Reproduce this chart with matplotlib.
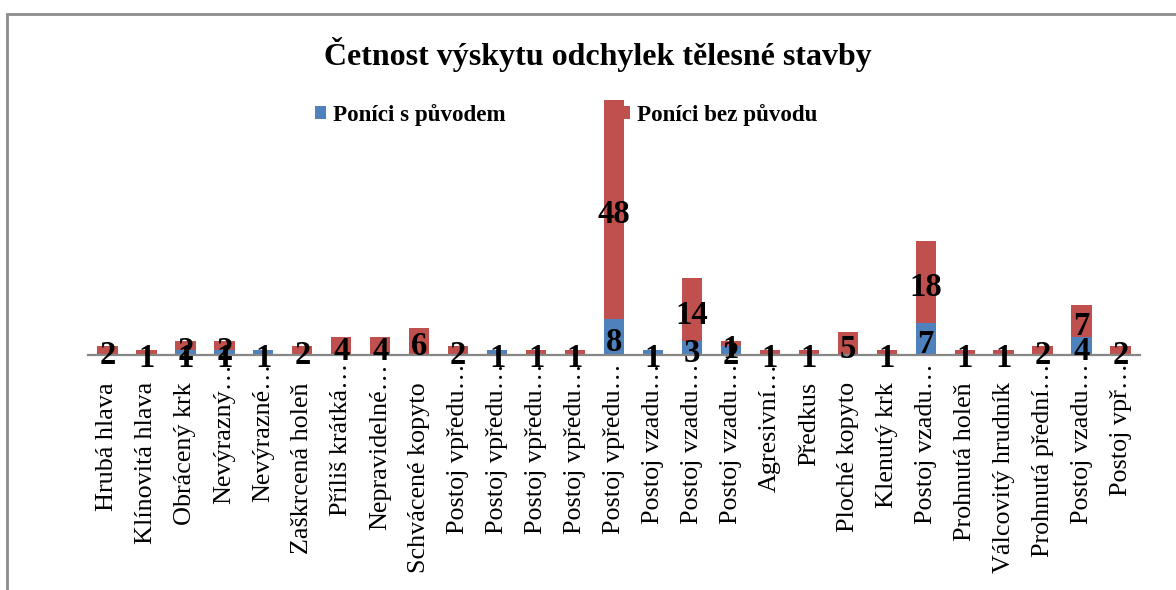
import matplotlib
matplotlib.use('Agg')

import matplotlib.pyplot as plt
import matplotlib.transforms as mtransforms
from matplotlib.patches import Rectangle
import numpy as np

plt.rcParams['font.family'] = ['Liberation Serif', 'DejaVu Serif']

categories = [
    'Hrubá hlava', 'Klínovitá hlava', 'Obrácený krk', 'Nevýrazný…', 'Nevýrazné…',
    'Zaškrcená holeň', 'Příliš krátká…', 'Nepravidelné…', 'Schvácené kopyto',
    'Postoj vpředu…', 'Postoj vpředu…', 'Postoj vpředu…', 'Postoj vpředu…',
    'Postoj vpředu…', 'Postoj vzadu…', 'Postoj vzadu…', 'Postoj vzadu…',
    'Agresivní…', 'Předkus', 'Ploché kopyto', 'Klenutý krk', 'Postoj vzadu…',
    'Prohnutá holeň', 'Válcovitý hrudník', 'Prohnutá přední…', 'Postoj vzadu…',
    'Postoj vpř…',
]
# None = prázdná buňka (bez popisku)
s_puvodem = [None, None, 1, 1, 1, None, None, None, None, None, 1, None, None,
             8, 1, 3, 2, None, None, None, None, 7, None, None, None, 4, None]
bez_puvodu = [2, 1, 2, 2, None, 2, 4, 4, 6, 2, None, 1, 1,
              48, None, 14, 1, 1, 1, 5, 1, 18, 1, 1, 2, 7, 2]

series = ['Poníci s původem', 'Poníci bez původu']
colors = ['#4F81BD', '#C0504D']

W, H = 1176, 590
fig = plt.figure(figsize=(W / 100, H / 100), dpi=100)

# rámeček grafu (vpravo a dole oříznutý)
fig.patches.append(Rectangle((7 / W, -0.2), 1.3, 1.2 - 14 / H, transform=fig.transFigure,
                             fill=False, edgecolor='#8c8c8c', linewidth=2))

ax = fig.add_axes([88 / W, 1 - 355 / H, 1052 / W, 273 / H])

x = np.arange(len(categories))
a = np.array([v if v is not None else 0 for v in s_puvodem], dtype=float)
b = np.array([v if v is not None else 0 for v in bez_puvodu], dtype=float)

ax.bar(x, a, width=0.52, color=colors[0], label=series[0], zorder=2)
ax.bar(x, b, width=0.52, bottom=a, color=colors[1], label=series[1], zorder=2)

# popisky hodnot uprostřed segmentů
lab_off = mtransforms.ScaledTranslation(0, -2 / 100, fig.dpi_scale_trans)
for i in range(len(categories)):
    if s_puvodem[i] is not None:
        ax.text(x[i], a[i] / 2, str(s_puvodem[i]), ha='center', va='center_baseline',
                fontsize=23.5, fontweight='bold', zorder=4, transform=ax.transData + lab_off)
    if bez_puvodu[i] is not None:
        ax.text(x[i], a[i] + b[i] / 2, str(bez_puvodu[i]), ha='center', va='center_baseline',
                fontsize=23.5, fontweight='bold', zorder=4, transform=ax.transData + lab_off)

ax.set_xlim(-0.5, len(categories) - 0.5)
ax.set_ylim(0, 60)
ax.set_yticks([])
ax.set_xticks(x)
ax.set_xticklabels([])
ax.tick_params(axis='x', length=0)

# popisky kategorií (zkrácené s … začínají blíž k ose)
for i, name in enumerate(categories):
    gap = 8 if name.endswith('…') else 27
    off = mtransforms.ScaledTranslation(0, -gap / 100, fig.dpi_scale_trans)
    ax.text(x[i], 0, name, rotation=90, ha='center', va='top', fontsize=18.8,
            transform=ax.get_xaxis_transform() + off)

for side in ['left', 'right', 'top']:
    ax.spines[side].set_visible(False)
ax.spines['bottom'].set_color('#868686')
ax.spines['bottom'].set_linewidth(1.6)
ax.spines['bottom'].set_zorder(3)
ax.patch.set_alpha(0)

fig.text(598 / W, 1 - 55 / H, 'Četnost výskytu odchylek tělesné stavby',
         ha='center', va='center', fontsize=23, fontweight='bold')

leg = fig.legend(loc='center', bbox_to_anchor=(566 / W, 1 - 115 / H), ncol=2, frameon=False,
                 prop={'size': 16.6, 'weight': 'bold'}, handlelength=0.5, handleheight=0.5,
                 handletextpad=0.3, columnspacing=4.9)
leg.set_zorder(1)

fig.savefig('out.png', dpi=100)
